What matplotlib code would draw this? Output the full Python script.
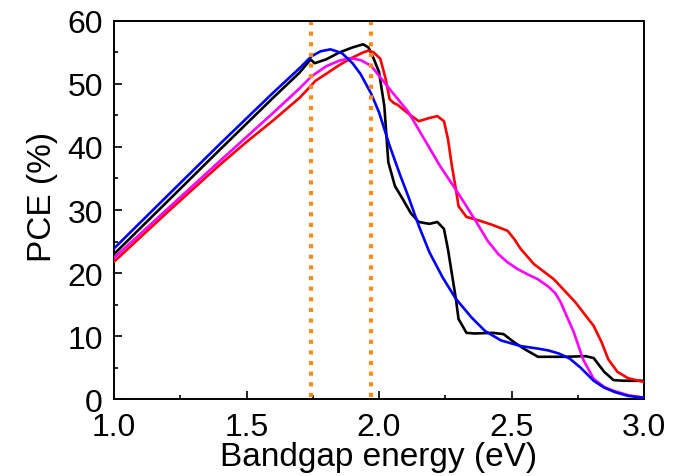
import matplotlib
matplotlib.use("Agg")
import matplotlib.pyplot as plt
from matplotlib.ticker import MultipleLocator

plt.rcParams['font.family'] = ['Liberation Sans', 'DejaVu Sans']

# Black curve
black_x = [1.00, 1.20, 1.40, 1.60, 1.70, 1.742, 1.757, 1.80, 1.85, 1.90, 1.94, 1.96, 1.98, 2.00,
           2.02, 2.035, 2.06, 2.09, 2.12, 2.15, 2.19, 2.22, 2.245, 2.26, 2.29, 2.30, 2.33, 2.36,
           2.43, 2.47, 2.51, 2.55, 2.60, 2.70, 2.78, 2.81, 2.85, 2.885, 2.92, 3.00]
black_y = [23.0, 31.3, 39.6, 47.8, 51.8, 53.9, 53.3, 53.9, 55.0, 55.8, 56.3, 55.8, 54.0, 51.9,
           46.5, 37.6, 33.8, 31.7, 29.5, 28.1, 27.8, 28.1, 27.0, 23.8, 15.9, 12.7, 10.5, 10.4,
           10.5, 10.3, 9.0, 7.9, 6.7, 6.7, 6.8, 6.5, 4.3, 3.0, 2.9, 2.9]

# Blue curve
blue_x = [1.00, 1.20, 1.40, 1.60, 1.70, 1.745, 1.78, 1.817, 1.86, 1.90, 1.93, 1.97, 2.00,
          2.04, 2.08, 2.11, 2.15, 2.19, 2.24, 2.29, 2.35, 2.40, 2.46, 2.535, 2.60, 2.64, 2.68,
          2.72, 2.76, 2.81, 2.85, 2.89, 2.94, 3.00]
blue_y = [23.9, 32.2, 40.5, 48.6, 52.5, 54.4, 55.2, 55.5, 54.9, 53.3, 51.6, 48.5, 45.5,
          40.2, 35.5, 32.2, 27.5, 23.3, 19.3, 15.9, 12.9, 10.8, 9.3, 8.4, 8.0, 7.7, 7.2,
          6.4, 5.0, 2.9, 1.8, 1.1, 0.5, 0.2]

# Red curve
red_x = [1.00, 1.20, 1.40, 1.50, 1.60, 1.70, 1.745, 1.76, 1.80, 1.85, 1.90, 1.94, 1.96, 1.98, 2.005,
         2.025, 2.04, 2.055, 2.07, 2.09, 2.12, 2.15, 2.19, 2.22, 2.245, 2.26, 2.275, 2.29, 2.30,
         2.33, 2.38, 2.43, 2.485, 2.51, 2.535, 2.585, 2.66, 2.74, 2.81, 2.84, 2.865, 2.90, 2.94,
         2.98, 3.00]
red_y = [21.8, 29.6, 37.2, 40.8, 44.2, 47.8, 49.8, 50.5, 51.6, 53.0, 54.2, 55.0, 55.3, 55.0, 54.0,
         50.8, 47.6, 47.0, 46.7, 46.0, 45.0, 44.1, 44.6, 44.9, 44.1, 41.3, 37.0, 33.3, 30.6,
         28.9, 28.3, 27.6, 26.7, 25.4, 23.8, 21.4, 19.0, 15.4, 11.6, 9.0, 6.3, 4.3, 3.3,
         2.9, 2.7]

# Magenta curve
mag_x = [1.00, 1.20, 1.40, 1.60, 1.70, 1.745, 1.80, 1.85, 1.89, 1.93, 1.97, 2.04, 2.11, 2.17,
         2.23, 2.295, 2.36, 2.41, 2.45, 2.485, 2.52, 2.56, 2.60, 2.64, 2.665, 2.685, 2.71, 2.735,
         2.77, 2.81, 2.85, 2.885, 2.94, 3.00]
mag_y = [22.4, 30.1, 37.8, 45.4, 49.3, 51.2, 52.8, 53.7, 54.1, 53.8, 52.9, 49.2, 45.6, 41.3,
         37.0, 32.9, 28.6, 25.1, 23.0, 21.7, 20.7, 19.8, 19.0, 17.8, 16.8, 15.4, 13.0, 10.6,
         6.3, 3.2, 1.9, 1.3, 0.6, 0.2]

vlines_x = [1.745, 1.968]

x_ticks = [1.0, 1.5, 2.0, 2.5, 3.0]
y_ticks = [0, 10, 20, 30, 40, 50, 60]

fig = plt.figure(figsize=(6.97, 4.77), dpi=100)
ax = fig.add_axes([0.1636, 0.1614, 0.7604, 0.7925])

lw = 1.9
ax.plot(black_x, black_y, color='black', lw=lw, zorder=3)
ax.plot(red_x, red_y, color='#ff0000', lw=lw, zorder=3)
ax.plot(mag_x, mag_y, color='#ff00ff', lw=lw, zorder=3)
ax.plot(blue_x, blue_y, color='#0000ff', lw=lw, zorder=3)

for vx in vlines_x:
    ax.plot([vx, vx], [0.3, 59.8], color='#ff8c1a', lw=3.0,
            linestyle=(0, (1.0, 1.55)), dash_capstyle='butt', zorder=4)

ax.set_xlim(1.0, 3.0)
ax.set_ylim(0, 60)
ax.set_xticks(x_ticks)
ax.set_xticklabels([f"{t:.1f}" for t in x_ticks])
ax.set_yticks(y_ticks)
ax.set_yticklabels([str(t) for t in y_ticks])
ax.xaxis.set_minor_locator(MultipleLocator(0.25))
ax.yaxis.set_minor_locator(MultipleLocator(5))

ax.tick_params(which='both', direction='in', top=False, right=False,
               labelsize=23, width=1.2)
ax.tick_params(axis='x', which='major', pad=9.5)
ax.tick_params(axis='y', which='major', pad=8)
ax.tick_params(which='major', length=5.5)
ax.tick_params(which='minor', length=3)
for s in ax.spines.values():
    s.set_linewidth(1.4)

ax.set_xlabel('Bandgap energy (eV)', fontsize=24)
ax.set_ylabel('PCE (%)', fontsize=24)
ax.xaxis.set_label_coords(0.5, -0.11)
ax.yaxis.set_label_coords(-0.105, 0.537)

fig.savefig('out.png', dpi=100)
